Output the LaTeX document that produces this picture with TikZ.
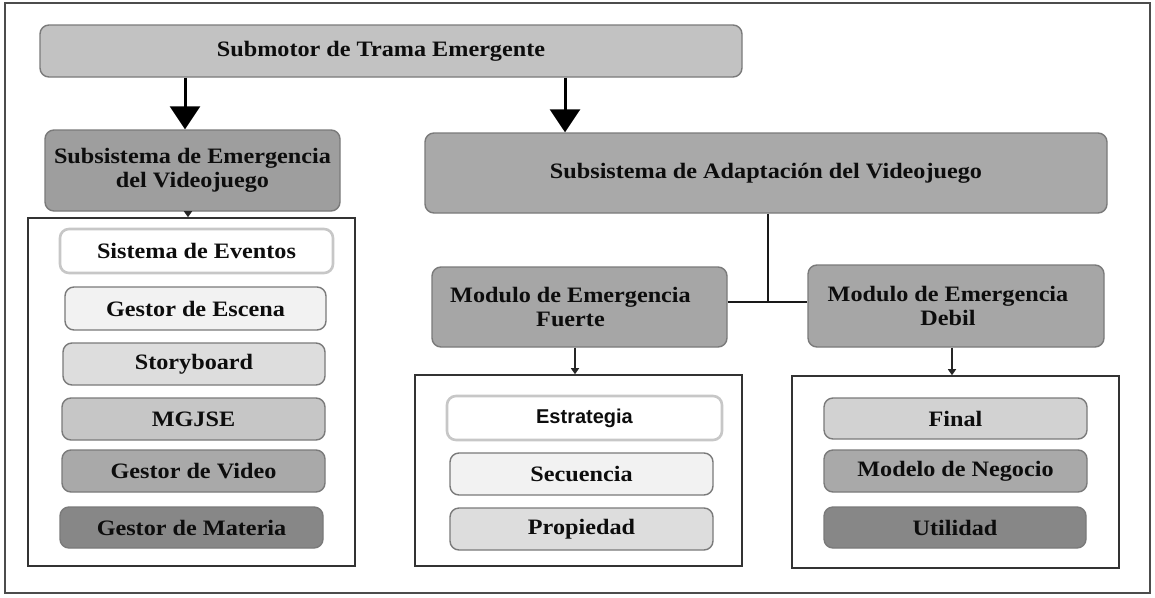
\documentclass[tikz,border=0pt]{standalone}
\usepackage{fontspec}
\setmainfont{Liberation Serif}[FakeStretch=1.1]
\newfontfamily\sansf{Liberation Sans}
\usetikzlibrary{arrows.meta}
\definecolor{boxline}{HTML}{7A7A7A}
\definecolor{gtop}{HTML}{C2C2C2}
\definecolor{gsub}{HTML}{9E9E9E}
\definecolor{gada}{HTML}{A9A9A9}
\definecolor{gmod}{HTML}{A6A6A6}
\definecolor{gA}{HTML}{F2F2F2}
\definecolor{gB}{HTML}{DDDDDD}
\definecolor{gC}{HTML}{C6C6C6}
\definecolor{gD}{HTML}{A9A9A9}
\definecolor{gE}{HTML}{878787}
\definecolor{gF}{HTML}{D2D2D2}
\begin{document}
\begin{tikzpicture}[x=1pt,y=-1pt,
  box/.style={draw=boxline, line width=1.4pt, rounded corners=9pt, inner sep=0pt,
    align=center, font=\fontsize{22}{24}\selectfont\bfseries, text=black!95},
  softbox/.style={box, draw=black!22, line width=2.6pt, fill=white},
  cont/.style={draw=black!80, line width=1.6pt, inner sep=0pt, fill=white},
  bigarrow/.style={line width=3pt, draw=black, -{Triangle[width=30pt,length=23pt]}},
  smallarrow/.style={line width=2.6pt, draw=black!85, -{Triangle[width=8pt,length=6pt]}},
  joinline/.style={line width=2.6pt, draw=black!90}
]
\useasboundingbox (0,0) rectangle (1155,597);
\fill[white] (0,0) rectangle (1155,597);
\draw[black!70, line width=2pt] (5,3) rectangle (1150,593);

% top
\node[box, fill=gtop, minimum width=702pt, minimum height=52pt] (top) at (391,51) {Submotor de Trama Emergente\hspace*{20pt}\raisebox{4pt}{}};

% left branch
\node[box, fill=gsub, minimum width=295pt, minimum height=81pt] (subem) at (192.5,170.5) {Subsistema de Emergencia\\del Videojuego};
\node[cont, minimum width=327pt, minimum height=348pt] (lcont) at (191.5,392) {};
\node[softbox, minimum width=273pt, minimum height=44pt] (sisev) at (196.5,251) {Sistema de Eventos};
\node[box, fill=gA, minimum width=261pt, minimum height=43pt] (gesc) at (195.5,308.5) {Gestor de Escena};
\node[box, fill=gB, minimum width=262pt, minimum height=42pt] (story) at (194,364) {Storyboard};
\node[box, fill=gC, minimum width=263pt, minimum height=42pt] (mgjse) at (193.5,419) {MGJSE};
\node[box, fill=gD, minimum width=263pt, minimum height=42pt] (gvid) at (193.5,471) {Gestor de Video};
\node[box, fill=gE, minimum width=263pt, minimum height=41pt] (gmat) at (191.5,527.5) {Gestor de Materia};

% right branch
\node[box, fill=gada, minimum width=682pt, minimum height=80pt] (subad) at (766,173) {Subsistema de Adaptación del Videojuego};
\node[box, fill=gmod, minimum width=295pt, minimum height=80pt] (mf) at (579.5,307) {Modulo de Emergencia\hspace*{18pt}\\Fuerte\hspace*{18pt}};
\node[box, fill=gmod, minimum width=296pt, minimum height=82pt] (md) at (956,306) {Modulo de Emergencia\hspace*{16pt}\\Debil\hspace*{16pt}};

\node[cont, minimum width=327pt, minimum height=191pt] (fcont) at (578.5,470.5) {};
\node[softbox, minimum width=275pt, minimum height=44pt, font=\sansf\fontsize{20}{22}\selectfont\bfseries] (estr) at (584.5,418) {Estrategia};
\node[box, fill=gA, minimum width=263pt, minimum height=42pt] (secu) at (581.5,474) {Secuencia};
\node[box, fill=gB, minimum width=263pt, minimum height=42pt] (prop) at (581.5,529) {Propiedad};

\node[cont, minimum width=327pt, minimum height=192pt] (dcont) at (955.5,472) {};
\node[box, fill=gF, minimum width=263pt, minimum height=41pt] (final) at (955.5,418.5) {Final};
\node[box, fill=gD, minimum width=263pt, minimum height=42pt] (model) at (955.5,471) {Modelo de Negocio};
\node[box, fill=gE, minimum width=262pt, minimum height=41pt] (util) at (955,527.5) {Utilidad};

% connectors
\coordinate (c1) at (185,0);
\coordinate (c2) at (565,0);
\coordinate (c3) at (768,0);
\coordinate (c4) at (188,0);
\coordinate (c5) at (575,0);
\coordinate (c6) at (952,0);
\coordinate (j) at (768,302);

\draw[bigarrow] (top.south -| c1) -- (subem.north -| c1);
\draw[bigarrow] (top.south -| c2) -- (subad.north -| c2);
\draw[smallarrow] (subem.south -| c4) -- (lcont.north -| c4);
\draw[joinline] (subad.south -| c3) -- (j);
\draw[joinline] (mf.east |- j) -- (md.west |- j);
\draw[smallarrow] (mf.south -| c5) -- (fcont.north -| c5);
\draw[smallarrow] (md.south -| c6) -- (dcont.north -| c6);
\end{tikzpicture}
\end{document}
